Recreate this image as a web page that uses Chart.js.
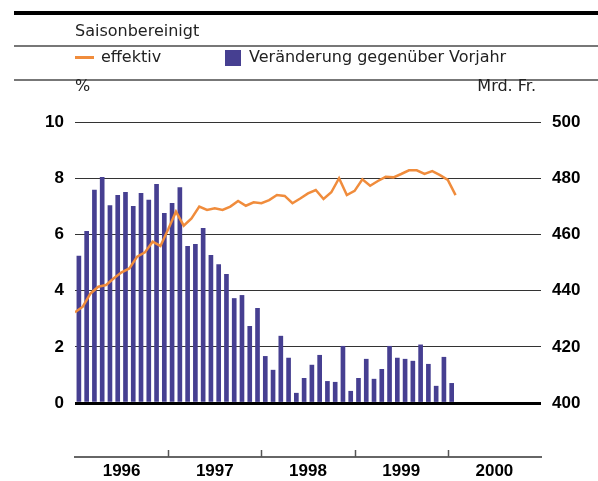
<!DOCTYPE html>
<html>
<head>
<meta charset="utf-8">
<script src="https://cdn.jsdelivr.net/npm/chart.js@4"></script>
<style>
  body { margin: 0; background: #fff; }
  #wrap { position: relative; width: 598px; height: 481px; overflow: hidden; }
  #myChart { position: absolute; left: 0; top: 0; }
  .hd { position: absolute; font-family: "DejaVu Sans", sans-serif; font-size: 16px; color: #222; white-space: nowrap; line-height: 18px; }
  .rule { position: absolute; left: 14px; right: 0; }
</style>
</head>
<body>
<div id="wrap">
  <canvas id="myChart" width="598" height="481"></canvas>
  <div class="rule" style="top:11px;height:4px;background:#000"></div>
  <div class="hd" style="left:75px;top:22px">Saisonbereinigt</div>
  <div class="rule" style="top:45px;height:2px;background:#777"></div>
  <div style="position:absolute;left:75px;top:56px;width:19px;height:3px;background:#f08c3c"></div>
  <div class="hd" style="left:101px;top:48px">effektiv</div>
  <div style="position:absolute;left:225px;top:50px;width:16px;height:16px;background:#463f91"></div>
  <div class="hd" style="left:249px;top:48px">Veränderung gegenüber Vorjahr</div>
  <div class="rule" style="top:79px;height:2px;background:#777"></div>
  <div class="hd" style="left:75px;top:77px">%</div>
  <div class="hd" style="right:62px;top:77px">Mrd. Fr.</div>
</div>
<script>
// Monthly data, Jan 1996 onwards
const years = ['1996', '1997', '1998', '1999', '2000'];
const yearBreaks = [12, 24, 36, 48];
const leftTicks = [0, 2, 4, 6, 8, 10];
const rightTicks = [400, 420, 440, 460, 480, 500];

// Veränderung gegenüber Vorjahr (%), Jan 1996 - Jan 2000
const veraenderung = [
  5.23, 6.11, 7.58, 8.03, 7.03, 7.39, 7.50, 7.00, 7.46, 7.22, 7.78, 6.75,
  7.11, 7.67, 5.58, 5.65, 6.22, 5.26, 4.93, 4.58, 3.72, 3.83, 2.73, 3.37,
  1.66, 1.17, 2.38, 1.60, 0.35, 0.88, 1.35, 1.70, 0.77, 0.74, 2.02, 0.42,
  0.88, 1.56, 0.85, 1.20, 2.02, 1.60, 1.56, 1.49, 2.07, 1.38, 0.60, 1.63,
  0.70
];

// effektiv (Mrd. Fr.)
const effektiv = [
  432.3, 434.3, 439.0, 441.4, 442.0, 444.4, 446.5, 447.9, 452.1, 453.6, 457.4, 455.9,
  461.8, 468.1, 463.1, 465.7, 469.9, 468.7, 469.3, 468.7, 469.9, 471.9, 470.2, 471.4,
  471.1, 472.2, 474.0, 473.7, 471.1, 472.8, 474.6, 475.8, 472.6, 475.0, 480.0, 474.0,
  475.5, 479.6, 477.3, 479.0, 480.5, 480.3, 481.5, 482.8, 482.8, 481.5, 482.5, 481.1,
  479.4, 474.0
];

const ctx = document.getElementById('myChart').getContext('2d');
const tickFont = { family: 'Liberation Sans', size: 17, weight: 'bold' };

// short upward tick marks at year boundaries on the bottom axis
const yearTicks = {
  id: 'yearTicks',
  afterDraw(chart) {
    const x = chart.scales.x;
    const c = chart.ctx;
    c.save();
    c.strokeStyle = '#555';
    c.lineWidth = 1.5;
    yearBreaks.forEach(v => {
      const px = Math.round(x.getPixelForValue(v)) + 0.5;
      c.beginPath();
      c.moveTo(px, x.top - 7);
      c.lineTo(px, x.top);
      c.stroke();
    });
    c.restore();
  }
};

const data = {
  datasets: [
    {
      type: 'line',
      label: 'effektiv',
      data: effektiv.map((v, i) => ({ x: i, y: v })),
      yAxisID: 'y1',
      borderColor: '#f08c3c',
      borderWidth: 2.5,
      pointRadius: 0,
      tension: 0,
      order: 0
    },
    {
      type: 'bar',
      label: 'Veränderung gegenüber Vorjahr',
      data: veraenderung.map((v, i) => ({ x: i + 0.5, y: v })),
      yAxisID: 'y',
      backgroundColor: '#463f91',
      barThickness: 4,
      order: 1
    }
  ]
};

const config = {
  type: 'bar',
  data,
  plugins: [yearTicks],
  options: {
    responsive: false,
    animation: false,
    layout: { padding: { top: 122, left: 0, right: 0, bottom: 0 } },
    plugins: {
      legend: { display: false },
      tooltip: { enabled: false }
    },
    scales: {
      x: {
        type: 'linear',
        min: 0,
        max: 60,
        offset: false,
        grid: { display: false, drawTicks: false },
        border: { color: '#666', width: 2 },
        afterBuildTicks: s => { s.ticks = years.map((y, i) => ({ value: i * 12 + 6 })); },
        afterFit: s => { s.height = 24; },
        ticks: {
          color: '#000',
          font: tickFont,
          padding: 4,
          maxRotation: 0,
          autoSkip: false,
          callback: v => years[Math.round((v - 6) / 12)]
        }
      },
      y: {
        position: 'left',
        min: -1.92,
        max: 10,
        afterBuildTicks: s => { s.ticks = leftTicks.map(v => ({ value: v })); },
        afterFit: s => { s.width = 75; },
        border: { display: false },
        grid: {
          drawTicks: false,
          color: c => c.tick && c.tick.value === 0 ? '#000' : '#333',
          lineWidth: c => c.tick && c.tick.value === 0 ? 3 : 1
        },
        ticks: { color: '#000', font: tickFont, padding: 11 }
      },
      y1: {
        position: 'right',
        min: 380.8,
        max: 500,
        afterBuildTicks: s => { s.ticks = rightTicks.map(v => ({ value: v })); },
        afterFit: s => { s.width = 57; },
        border: { display: false },
        grid: { display: false, drawTicks: false },
        ticks: { color: '#000', font: tickFont, padding: 11 }
      }
    }
  }
};

let myChart = new Chart(ctx, config);
</script>
</body>
</html>
